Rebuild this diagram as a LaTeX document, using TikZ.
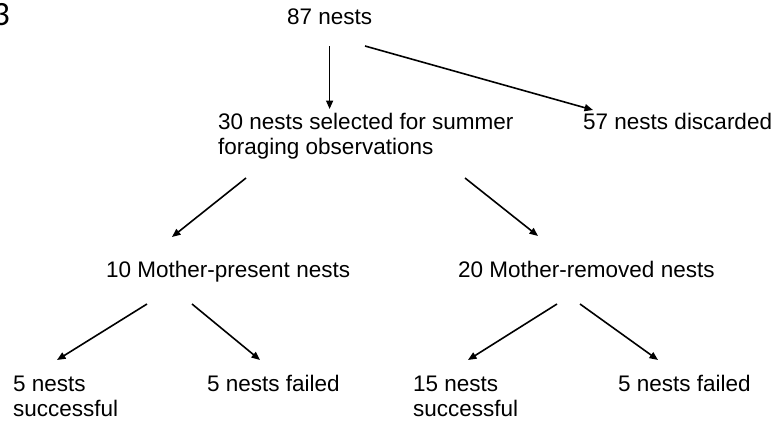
\documentclass[tikz,border=0pt]{standalone}
\usepackage{fontspec}
\setmainfont{Liberation Sans}
\newfontfamily\labelfont{Carlito}
\usetikzlibrary{arrows.meta,calc}
\begin{document}
\begin{tikzpicture}[x=1pt,y=-1pt,
  lbl/.style={inner sep=0pt,anchor=base west,align=left,
    font=\fontsize{22.5}{25.5}\selectfont},
  arr/.style={line width=1.6pt,-{Triangle[length=8.5pt,width=7pt]}}]
\useasboundingbox (0,0) rectangle (776,423);
\fill[white] (0,0) rectangle (776,423);
\node[inner sep=0pt,anchor=base east,font=\fontsize{34}{34}\labelfont] (panel) at (10,25) {3};
\node[lbl] (n87) at (287,24.5) {87 nests};
\node[lbl] (n30) at (218,154.5) {30 nests selected for summer\\foraging observations};
\node[lbl] (n57) at (583,129) {57 nests discarded};
\node[lbl] (n10) at (106,277) {10 Mother-present nests};
\node[lbl] (n20) at (458,277) {20 Mother-removed nests};
\node[lbl] (n5s) at (13,416.5) {5 nests\\successful};
\node[lbl] (n5f) at (207,391) {5 nests failed};
\node[lbl] (n15s) at (413,416.5) {15 nests\\successful};
\node[lbl] (n5f2) at (618,391) {5 nests failed};
\draw[arr] ($(n87.base west)+(42.6,21.5)$) -- ($(n30.base west)+(111.6,-45.5)$);
\draw[arr] ($(n87.base west)+(78,21.5)$) -- ($(n57.base west)+(10,-19)$);
\draw[arr] ($(n30.base west)+(28,23.5)$) -- ($(n10.base west)+(66,-40)$);
\draw[arr] ($(n30.base west)+(247,23.5)$) -- ($(n20.base west)+(80,-41)$);
\draw[arr] ($(n10.base west)+(41,27)$) -- ($(n5s.base west)+(44,-56.5)$);
\draw[arr] ($(n10.base west)+(86,27)$) -- ($(n5f.base west)+(53,-31)$);
\draw[arr] ($(n20.base west)+(99,27)$) -- ($(n15s.base west)+(55,-56.5)$);
\draw[arr] ($(n20.base west)+(122,27)$) -- ($(n5f2.base west)+(40,-31)$);
\end{tikzpicture}
\end{document}
